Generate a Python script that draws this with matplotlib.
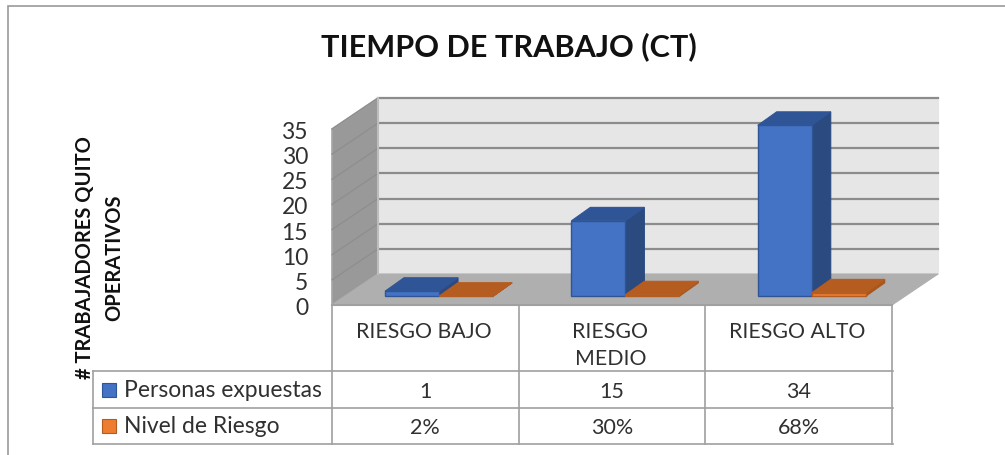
import matplotlib
matplotlib.use("Agg")
import matplotlib.pyplot as plt
from matplotlib.patches import Polygon, Rectangle

categories = ["RIESGO BAJO", "RIESGO\nMEDIO", "RIESGO ALTO"]
personas = [1, 15, 34]
nivel = [0.02, 0.30, 0.68]
nivel_labels = ["2%", "30%", "68%"]
series_names = ["Personas expuestas", "Nivel de Riesgo"]
yticks = [0, 5, 10, 15, 20, 25, 30, 35]
title = "TIEMPO DE TRABAJO (CT)"
ylabel = "# TRABAJADORES QUITO\nOPERATIVOS"

W, H = 1005, 456
plt.rcParams["font.family"] = ["Lato", "DejaVu Sans"]
fig = plt.figure(figsize=(W / 100, H / 100), dpi=100)
ax = fig.add_axes([0, 0, 1, 1])
ax.set_xlim(0, W); ax.set_ylim(H, 0); ax.axis("off")

BLUE, BLUE_TOP, BLUE_SIDE = "#4472C4", "#2F5597", "#2A4A80"
OR, OR_TOP, OR_SIDE = "#ED7D31", "#B55D20", "#A9561D"
GRID = "#8C8C8C"; TBL = "#A0A0A0"; TXT = "#303030"

# frame: only top and left edges are visible in the crop
ax.plot([7.5, 7.5, W], [H, 6.5, 6.5], color="#999999", lw=1.2, zorder=0.5, solid_joinstyle="miter")

# 3D box
X0, X1 = 332, 892      # front floor edge
DX, DY = 46, -31
Y0, UNIT = 306, 176 / 35   # front zero, px per unit

def wy(v):
    return Y0 - v * UNIT

def poly(pts, fc, ec=None, lw=0.8, z=2):
    ax.add_patch(Polygon(pts, closed=True, fc=fc, ec=ec or fc, lw=lw, zorder=z))

# back wall, side wall, floor
poly([(X0 + DX, wy(0) + DY), (X1 + DX, wy(0) + DY), (X1 + DX, wy(35) + DY), (X0 + DX, wy(35) + DY)], "#E6E6E6", z=1)
poly([(X0, wy(0)), (X0 + DX, wy(0) + DY), (X0 + DX, wy(35) + DY), (X0, wy(35))], "#999999", ec="#A6A6A6", lw=1.2, z=1)
poly([(X0, wy(0)), (X1, wy(0)), (X1 + DX, wy(0) + DY), (X0 + DX, wy(0) + DY)], "#AFAFAF", z=1)
for v in yticks:
    if v:
        ax.plot([X0, X0 + DX], [wy(v), wy(v) + DY], color="#8E8E8E", lw=0.9, zorder=1.5)
        ax.plot([X0 + DX, X1 + DX], [wy(v) + DY, wy(v) + DY], color=GRID, lw=1.6, zorder=1.5)
    ax.text(308, wy(v) + 2.5, str(v), ha="right", va="center", fontsize=16.5, color=TXT)
ax.plot([X0 + DX, X0 + DX], [wy(0) + DY, wy(35) + DY], color="#BDBDBD", lw=1.5, zorder=1.6)
ax.plot([X0, X1], [wy(0), wy(0)], color=TBL, lw=1.5, zorder=1.6)

# bars
CW = (X1 - X0) / 3
BW = 54
BDX, BDY = 19, -13.5
BASE = 8.7  # front offset of bars above floor edge

def bar(xl, v, front, top, side, z):
    yb = wy(0) - BASE
    yt = yb - v * UNIT
    xr = xl + BW
    poly([(xr, yb), (xr + BDX, yb + BDY), (xr + BDX, yt + BDY), (xr, yt)], side, z=z)
    poly([(xl, yt), (xr, yt), (xr + BDX, yt + BDY), (xl + BDX, yt + BDY)], top, z=z)
    poly([(xl, yb), (xr, yb), (xr, yt), (xl, yt)], front, ec=top, lw=1.0, z=z + 0.1)

for i in range(3):
    xl = X0 + i * CW + 53 - i * 0.3
    bar(xl, personas[i], BLUE, BLUE_TOP, BLUE_SIDE, 3)
    bar(xl + BW, nivel[i], OR, OR_TOP, OR_SIDE, 3.5)

# table
ROW = [372, 409, 445]
for i in range(4):
    x = X0 + i * CW
    ax.plot([x, x], [306, 445], color=TBL, lw=1.2, zorder=1.2)
ax.plot([92.5, 92.5], [372, 445], color=TBL, lw=1.2, zorder=1.2)
for y in ROW:
    ax.plot([92.5, X1 + 0.5], [y, y], color=TBL, lw=1.2, zorder=1.2)

for i, c in enumerate(categories):
    xc = X0 + (i + 0.5) * CW
    ax.text(xc - 1.5, 322, c, ha="center", va="top", fontsize=15.3, color=TXT, linespacing=1.42)
    ax.text(xc, 392, str(personas[i]), ha="center", va="center", fontsize=15.5, color=TXT)
    ax.text(xc, 428, nivel_labels[i], ha="center", va="center", fontsize=15.5, color=TXT)

for y, name, col, edge in zip([391, 427], series_names, [BLUE, OR], [BLUE_TOP, OR_TOP]):
    ax.add_patch(Rectangle((102, y - 7), 14, 14, fc=col, ec=edge, lw=0.8, zorder=3))
    ax.text(124, y, name, ha="left", va="center", fontsize=16.5, color=TXT)

ax.text(508.5, 47, title, ha="center", va="center", fontsize=22.1, fontweight="bold", color="#111111")
ax.text(99.5, 258, ylabel, rotation=90, ha="center", va="center", multialignment="center", fontsize=14.5, fontweight="bold", color="#111111", linespacing=1.55)

fig.savefig("out.png", dpi=100)
